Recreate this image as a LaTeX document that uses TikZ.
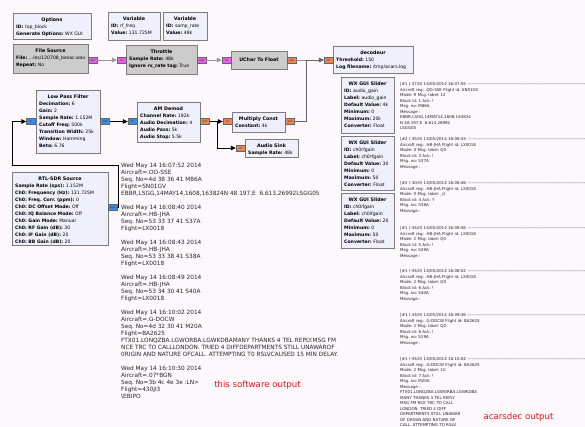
\documentclass[tikz,border=0pt]{standalone}
\usepackage{fontspec}
\setmainfont{DejaVu Sans}
\usetikzlibrary{arrows.meta}
\frenchspacing
\definecolor{bgc}{RGB}{252,248,252}
\definecolor{boxonc}{RGB}{240,240,252}
\definecolor{boxoffc}{RGB}{204,204,204}
\definecolor{boxline}{RGB}{125,125,125}
\definecolor{pbyte}{RGB}{238,90,238}
\definecolor{pfloat}{RGB}{240,130,80}
\definecolor{pcplx}{RGB}{60,140,230}
\definecolor{redtxt}{RGB}{232,20,30}
\definecolor{wiregray}{RGB}{150,150,150}
\tikzset{
 gbox/.style={draw=boxline, line width=0.9pt, inner sep=0pt, outer sep=0pt},
 blkon/.style={fill=boxonc}, blkoff/.style={fill=boxoffc},
 gtitle/.style={font=\fontsize{4.8}{7}\selectfont\bfseries, inner sep=0pt, anchor=base},
 gbody/.style={font=\fontsize{4.6}{7}\selectfont, align=left, inner sep=0pt, anchor=north west},
 gport/.style={draw=black!60, line width=0.4pt, minimum width=9pt, minimum height=6pt, inner sep=0pt, font=\fontsize{3}{3}\selectfont, text=black!80},
 wireoff/.style={draw=wiregray, line width=0.7pt, -{Triangle[length=5pt,width=4.5pt]}},
 wiremid/.style={draw=black!60, line width=0.7pt, -{Triangle[length=5pt,width=4.5pt]}},
 wireon/.style={draw=black, line width=0.7pt, -{Triangle[length=5pt,width=4.5pt]}},
 logtxt/.style={font=\fontsize{5.8}{7}\selectfont, align=left, inner sep=0pt, anchor=north west, text=black!85},
 acars/.style={font=\fontsize{4}{5.5}\selectfont, align=left, inner sep=0pt, anchor=north west, text=black!85},
 redlabel/.style={font=\fontsize{8.6}{10}\selectfont, text=redtxt, inner sep=0pt},
}
\newcommand\gblock[8]{%
  \node[gbox,#6,minimum width={#4-#2},minimum height={#5-#3},anchor=north west] (#1) at (#2,#3) {};
  \node[gtitle] (#1t) at ({(#2+#4)/2},{#3+8.2}) {#7};
  \node[gbody] (#1b) at ({#2+3},{#3+11.7}) {#8};
}
\newcommand\gport[5]{\node[gport,fill=#4] (#1) at (#2,#3) {#5};}
\newcommand\dashhdr[1]{\hbox to 185pt{#1 \xleaders\hbox{-}\hfill}}
\begin{document}
\begin{tikzpicture}[x=1pt,y=-1pt]
\fill[bgc] (0,0) rectangle (585,427);
\useasboundingbox (0,0) rectangle (585,427);

% blocks
\gblock{opt}{13}{13}{91}{39}{blkon}{Options}{\textbf{ID:} top\_block\\\textbf{Generate Options:} WX GUI}
\gblock{var1}{108}{12}{160}{40}{blkon}{Variable}{\textbf{ID:} rf\_freq\\\textbf{Value:} 131.725M}
\gblock{var2}{163}{12}{207}{40}{blkon}{Variable}{\textbf{ID:} samp\_rate\\\textbf{Value:} 48k}
\gblock{fsrc}{13}{44}{88}{73}{blkoff}{File Source}{\textbf{File:} ...les/120708\_besac.wav\\\textbf{Repeat:} No}
\gblock{thr}{126}{45}{197}{74}{blkoff}{Throttle}{\textbf{Sample Rate:} 48k\\\textbf{Ignore rx\_rate tag:} True}
\node[gbox,blkoff,minimum width=56,minimum height=18,anchor=north west] (uch) at (231,51) {};
\node[gtitle] (ucht) at (259,61.8) {UChar To Float};
\gblock{dec}{333}{46}{413}{73}{blkon}{decodeur}{\textbf{Threshold:} 150\\\textbf{Log filename:} /tmp/acars.log}
\gblock{lpf}{36}{90}{100}{153}{blkon}{Low Pass Filter}{\textbf{Decimation:} 6\\\textbf{Gain:} 2\\\textbf{Sample Rate:} 1.152M\\\textbf{Cutoff Freq:} 500k\\\textbf{Transition Width:} 25k\\\textbf{Window:} Hamming\\\textbf{Beta:} 6.76}
\gblock{amd}{137}{102}{200}{142}{blkon}{AM Demod}{\textbf{Channel Rate:} 192k\\\textbf{Audio Decimation:} 4\\\textbf{Audio Pass:} 5k\\\textbf{Audio Stop:} 5.5k}
\gblock{mul}{232}{112}{285}{132}{blkon}{Multiply Const}{\textbf{Constant:} 4k}
\gblock{snk}{245}{139}{298}{157}{blkon}{Audio Sink}{\textbf{Sample Rate:} 48k}
\gblock{rtl}{12}{172}{108}{245}{blkon}{RTL-SDR Source}{\textbf{Sample Rate (sps):} 1.152M\\\textbf{Ch0: Frequency (Hz):} 131.725M\\\textbf{Ch0: Freq. Corr. (ppm):} 0\\\textbf{Ch0: DC Offset Mode:} Off\\\textbf{Ch0: IQ Balance Mode:} Off\\\textbf{Ch0: Gain Mode:} Manual\\\textbf{Ch0: RF Gain (dB):} 30\\\textbf{Ch0: IF Gain (dB):} 20\\\textbf{Ch0: BB Gain (dB):} 20}
\gblock{sl1}{341}{77}{394}{133}{blkon}{WX GUI Slider}{\textbf{ID:} audio\_gain\\\textbf{Label:} audio\_gain\\\textbf{Default Value:} 4k\\\textbf{Minimum:} 0\\\textbf{Maximum:} 20k\\\textbf{Converter:} Float}
\gblock{sl2}{341}{136}{394}{190}{blkon}{WX GUI Slider}{\textbf{ID:} ch0rfgain\\\textbf{Label:} ch0rfgain\\\textbf{Default Value:} 30\\\textbf{Minimum:} 0\\\textbf{Maximum:} 50\\\textbf{Converter:} Float}
\gblock{sl3}{341}{193}{394}{248}{blkon}{WX GUI Slider}{\textbf{ID:} ch0ifgain\\\textbf{Label:} ch0ifgain\\\textbf{Default Value:} 20\\\textbf{Minimum:} 0\\\textbf{Maximum:} 50\\\textbf{Converter:} Float}

% ports
\gport{fso}{92.5}{60}{pbyte}{out}
\gport{thi}{121.5}{60}{pbyte}{in}
\gport{tho}{201.5}{60}{pbyte}{out}
\gport{uci}{226.5}{60}{pbyte}{in}
\gport{uco}{291.5}{60}{pfloat}{out}
\gport{dei}{328.5}{60}{pfloat}{in}
\gport{lpi}{31}{121.5}{pcplx}{in}
\gport{lpo}{105}{121.5}{pcplx}{out}
\gport{ami}{132.5}{121.5}{pcplx}{in}
\gport{amo}{205}{121.5}{pfloat}{out}
\gport{mui}{227.5}{121.5}{pfloat}{in}
\gport{muo}{290}{121.5}{pfloat}{out}
\gport{asi}{240.5}{148}{pfloat}{in}
\gport{rto}{112.5}{207}{pcplx}{out}

% connectors
\coordinate (j1) at (306,60);
\coordinate (j2) at (217,121.5);
\coordinate (j3) at (118.5,165);
\coordinate (j4) at (12,165);
\draw[wireoff] (fso) -- (thi);
\draw[wireoff] (tho) -- (uci);
\draw[wireoff] (uco) -- (dei);
\draw[wiremid] (muo.east) -| (j1) -- (dei.west);
\draw[wireon] (lpo) -- (ami);
\draw[wireon] (amo) -- (mui);
\draw[wireon] (j2) |- (asi.west);
\draw[wireon] (rto.east) -| (j3) -- (j4) |- (lpi.west);

% software output
\node[logtxt] (swlog) at (121,162.8) {Wed May 14 16:07:52 2014\\
Aircraft=.OO-SSE\\
Seq. No=4d 38 36 41 M86A\\
Flight=SN01GV\\
EBBR,LSGG,14MAY14,1608,163824N 48.197,E\ \ 6.613,26992LSGG05\\[7pt]%
Wed May 14 16:08:40 2014\\
Aircraft=.HB-JHA\\
Seq. No=53 33 37 41 S37A\\
Flight=LX0018\\[7pt]%
Wed May 14 16:08:43 2014\\
Aircraft=.HB-JHA\\
Seq. No=53 33 38 41 S38A\\
Flight=LX0018\\[7pt]%
Wed May 14 16:08:49 2014\\
Aircraft=.HB-JHA\\
Seq. No=53 34 30 41 S40A\\
Flight=LX0018\\[7pt]%
Wed May 14 16:10:02 2014\\
Aircraft=.G-DOCW\\
Seq. No=4d 32 30 41 M20A\\
Flight=BA2625\\
FTX01.LONQZBA.LGWORBA.LGWKDBAMANY THANKS 4 TEL REPLY.MSG FM\\
NCE TRC TO CALLLONDON. TRIED 4 DIFFDEPARTMENTS STILL UNAWAROF\\
0RIGIN AND NATURE OFCALL. ATTEMPTING T0 RSLVCAUSED 15 MIN DELAY.\\[7pt]%
Wed May 14 16:10:30 2014\\
Aircraft=.07*BGN\\
Seq. No=3b 4c 4e 3e :LN>\\
Flight=430JI3\\
\textbackslash EBIPO};

% acarsdec output
\node[acars] (ac1) at (400,82.5) {\dashhdr{[\#1 (-37/0) 14/05/2014 16:07:55}\\
Aircraft reg: .OO-SSE Flight id: SN01GV\\
Mode: R Msg. label: 12\\
Block id: 1 Ack: !\\
Msg. no: M86A\\
Message :\\
EBBR,LSGG,14MAY14,1608,163824\\
N 48.197,E\ \ 6.613,26992\\
LSGG05};
\node[acars] (ac2) at (400,137.5) {\dashhdr{[\#2 (-35/0) 14/05/2014 16:08:43}\\
Aircraft reg: .HB-JHA Flight id: LX0018\\
Mode: 0 Msg. label: Q0\\
Block id: 3 Ack: !\\
Msg. no: S37A\\
Message :};
\node[acars] (ac3) at (400,181.5) {\dashhdr{[\#2 (-30/0) 14/05/2014 16:08:46}\\
Aircraft reg: .HB-JHA Flight id: LX0018\\
Mode: 0 Msg. label: \_d\\
Block id: 4 Ack: Y\\
Msg. no: S38A\\
Message :};
\node[acars] (ac4) at (400,226.5) {\dashhdr{[\#1 (-35/0) 14/05/2014 16:08:46}\\
Aircraft reg: .HB-JHA Flight id: LX0018\\
Mode: 2 Msg. label: Q0\\
Block id: 5 Ack: !\\
Msg. no: S39A\\
Message :};
\node[acars] (ac5) at (400,269.5) {\dashhdr{[\#1 (-35/0) 14/05/2014 16:08:52}\\
Aircraft reg: .HB-JHA Flight id: LX0018\\
Mode: 2 Msg. label: Q0\\
Block id: 6 Ack: !\\
Msg. no: S40A\\
Message :};
\node[acars] (ac6) at (400,313.5) {\dashhdr{[\#1 (-34/0) 14/05/2014 16:09:36}\\
Aircraft reg: .G-DOCW Flight id: BA2625\\
Mode: 2 Msg. label: Q0\\
Block id: 6 Ack: !\\
Msg. no: S19A\\
Message :};
\node[acars] (ac7) at (400,357.5) {\dashhdr{[\#1 (-35/0) 14/05/2014 16:10:04}\\
Aircraft reg: .G-DOCW Flight id: BA2625\\
Mode: 2 Msg. label: 10\\
Block id: 7 Ack: !\\
Msg. no: M20A\\
Message :\\
FTX01.LONQZBA.LGWORBA.LGWKDBA\\
MANY THANKS 4 TEL REPLY\\
MSG FM NCE TRC TO CALL\\
LONDON. TRIED 4 DIFF\\
DEPARTMENTS STILL UNAWAR\\
OF ORIGIN AND NATURE OF\\
CALL. ATTEMPTING TO RSLV};

% red labels
\node[redlabel] (swlbl) at (257.5,385) {this software output};
\node[redlabel] (aclbl) at (518.5,417) {acarsdec output};
\end{tikzpicture}
\end{document}
